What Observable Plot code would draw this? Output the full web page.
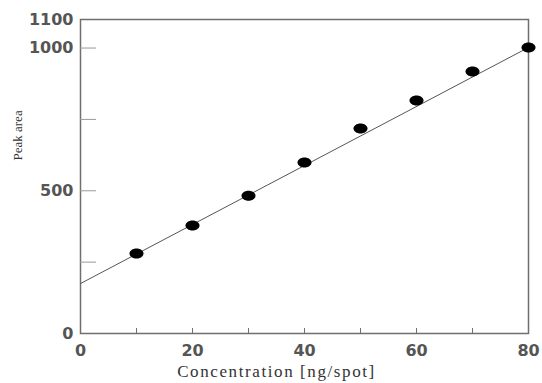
<!DOCTYPE html>
<html><head><meta charset="utf-8">
<script src="https://cdn.jsdelivr.net/npm/d3@7"></script>
<script src="https://cdn.jsdelivr.net/npm/@observablehq/plot@0.6"></script>
<style>body{margin:0;background:#fff}</style>
</head><body><div id="chart"></div>
<script>
const concentration = [10, 20, 30, 40, 50, 60, 70, 80];
const peakArea = [280, 378, 483, 599, 718, 816, 918, 1002];
const fitX = [0, 80];
const fitY = [175, 1002];
const xTickLabels = [0, 20, 40, 60, 80];
const xMinorTicks = [10, 20, 30, 40, 50, 60, 70];
const yTickLabels = [0, 500, 1000, 1100];
const yMinorTicks = [250, 500, 750, 1000];

const points = concentration.map((c, i) => ({c, a: peakArea[i]}));
const fit = fitX.map((x, i) => ({x, y: fitY[i]}));

const ellipse = {
  draw(ctx, size) {
    const rx = 7, ry = 5, k = 0.5523;
    ctx.moveTo(-rx, 0);
    ctx.bezierCurveTo(-rx, -ry * k, -rx * k, -ry, 0, -ry);
    ctx.bezierCurveTo(rx * k, -ry, rx, -ry * k, rx, 0);
    ctx.bezierCurveTo(rx, ry * k, rx * k, ry, 0, ry);
    ctx.bezierCurveTo(-rx * k, ry, -rx, ry * k, -rx, 0);
    ctx.closePath();
  }
};

const gray = "#6f6f6f";
const fmt = d => String(d);
const chart = Plot.plot({
  width: 542, height: 383,
  marginLeft: 80, marginRight: 14, marginTop: 19, marginBottom: 50,
  style: {fontFamily: "DejaVu Sans", fontSize: "14px", color: "#444", background: "white"},
  x: {domain: [0, 80]},
  y: {domain: [0, 1100]},
  marks: [
    Plot.frame({stroke: gray, strokeWidth: 1.5}),
    Plot.axisX(xMinorTicks, {tickSize: 5, dy: -5, text: null, stroke: gray, label: null}),
    Plot.axisX(xTickLabels, {tickSize: 0, tickPadding: 11, fontSize: 16, fontWeight: 600, fill: "#555", tickFormat: fmt, label: null}),
    Plot.axisY(yMinorTicks, {tickSize: 16, dx: 16, text: null, stroke: "#999", label: null}),
    Plot.axisY(yTickLabels, {tickSize: 0, tickPadding: 7, fontSize: 16, fontWeight: 600, fill: "#555", tickFormat: fmt, label: null}),
    Plot.text(["Concentration [ng/spot]"], {frameAnchor: "bottom", dx: -28, dy: 43, fontFamily: "Liberation Serif", fontSize: 17, fill: "#333", className: "xlab"}),
    Plot.text(["Peak area"], {frameAnchor: "left", dx: -63, dy: -16, rotate: -90, fontFamily: "Liberation Serif", fontSize: 13, fill: "#333"}),
    Plot.line(fit, {x: "x", y: "y", stroke: "#555", strokeWidth: 1}),
    Plot.dot(points, {x: "c", y: "a", symbol: ellipse, fill: "black", stroke: "none"})
  ]
});
d3.select(chart).selectAll(".xlab text").style("letter-spacing", "1.6px");
document.getElementById("chart").append(chart);
</script></body></html>
